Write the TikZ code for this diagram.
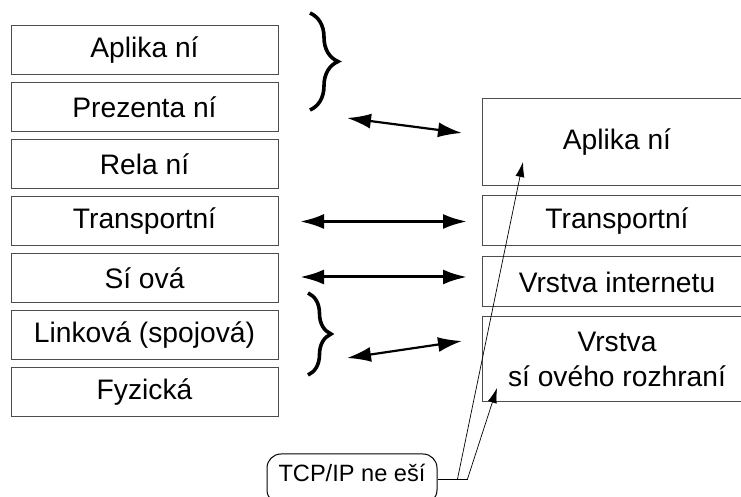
\documentclass[tikz,border=0pt]{standalone}
\usepackage{fontspec}
\setmainfont{Liberation Sans}
\usetikzlibrary{arrows.meta,positioning,decorations.pathreplacing}

\begin{document}
\begin{tikzpicture}[x=0.5pt,y=-0.5pt,node distance=28.5pt,
    font=\fontsize{14.1}{17.5}\selectfont,
    layer/.style={draw=black!70,line width=0.5pt,inner sep=0pt,outer sep=0pt,
      minimum width=133.5pt,minimum height=24.5pt,align=center},
    tcplayer/.style={layer,minimum width=135pt},
    link/.style={{Latex[length=12pt,width=7.5pt]}-{Latex[length=12pt,width=7.5pt]},line width=1.5pt},
    slant/.style={link,line width=1.1pt},
    hint/.style={-{Latex[length=7.5pt,width=4.5pt]},line width=0.35pt},
    osibrace/.style={decorate,decoration={brace,amplitude=#1},line width=1.8pt}]
        \useasboundingbox (0,0) rectangle (741,497);
        \clip (0,0) rectangle (741,497);

        % ISO/OSI
        \node[layer](o1) at (144.5,50.5){Aplika ní};
        \node[layer](o2)[below of=o1]{Prezenta ní};
        \node[layer](o3)[below of=o2]{Rela ní};
        \node[layer](o4)[below of=o3]{Transportní};
        \node[layer](o5)[below of=o4]{Sí ová};
        \node[layer](o6)[below of=o5]{Linková (spojová)};
        \node[layer](o7)[below of=o6]{Fyzická};

        % TCP/IP
        \node[tcplayer,minimum height=43.5pt](t1) at (617,142.5){Aplika ní};
        \node[tcplayer,minimum height=25pt](t2) at (617,221){Transportní};
        \node[tcplayer,minimum height=25pt](t3) at (617,282){Vrstva internetu};
        \node[tcplayer,minimum height=42.5pt](t4) at (617,359.5){Vrstva\\sí ového rozhraní};

        \node[draw,rounded corners=7pt,line width=0.5pt,inner sep=0pt,minimum width=85pt,
          font=\fontsize{11.8}{14}\selectfont,
          text height=14pt,text depth=11pt,anchor=base](tcp) at (352,482){TCP/IP ne eší};

        % braces
        \coordinate (b1) at (310,13);
        \coordinate (b2) at (310,110);
        \coordinate (b3) at (308,293);
        \coordinate (b4) at (308,375);
        \draw[osibrace=14pt] (b1) -- (b2);
        \draw[osibrace=11.5pt] (b3) -- (b4);

        % arrows
        \coordinate (s1) at (347,118);
        \coordinate (e1) at (462,133);
        \coordinate (s2) at (347,358);
        \coordinate (e2) at (462,341);
        \draw[slant] (s1) -- (e1);
        \draw[slant] (s2) -- (e2);
        \draw[link,shorten <=11pt,shorten >=7.5pt] (o4.east) -- (o4.east -| t2.west);
        \draw[link,shorten <=11pt,shorten >=7.5pt] ([yshift=0.75pt]o5.east) -- ([yshift=0.75pt]o5.east -| t3.west);

        \coordinate (j1) at ([xshift=10pt]tcp.east);
        \coordinate (j2) at ([xshift=15pt]tcp.east);
        \coordinate (h1) at (523,162);
        \coordinate (h2) at (497,388);
        \draw[line width=0.35pt] (tcp.east) -- (j2);
        \draw[hint] (j1) -- (h1);
        \draw[hint] (j2) -- (h2);
      \end{tikzpicture}
\end{document}
